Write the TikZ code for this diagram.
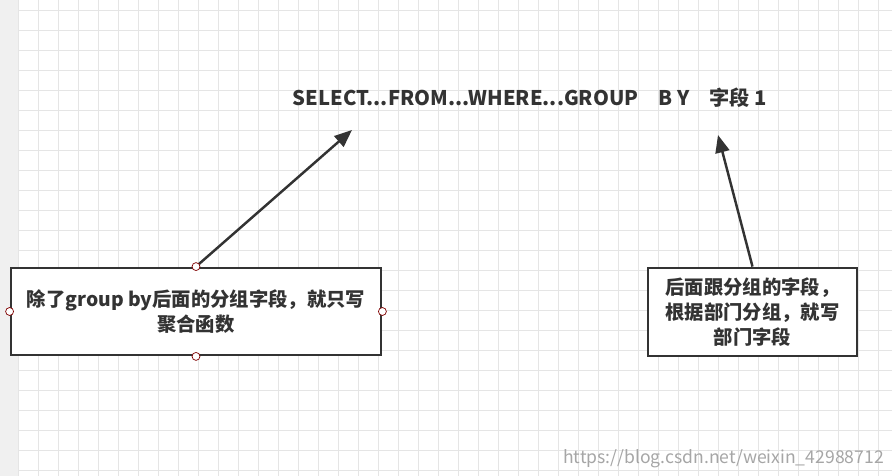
\documentclass[tikz,border=0pt]{standalone}
\usepackage{fontspec}
\setmainfont{Noto Sans CJK SC}
\usetikzlibrary{arrows.meta}
\tikzset{
  notebox/.style={draw=black!80, line width=1.6pt, fill=white, align=center, font=\bfseries\fontsize{11}{14}\selectfont, text=black!80},
  handle/.style={circle, draw=red!50!black, fill=white, inner sep=1.6pt},
}
\begin{document}
\begin{tikzpicture}[x=0.02cm, y=-0.02cm]
\useasboundingbox (0,0) rectangle (892,476);
\fill[white] (0,0) rectangle (892,476);
\fill[black!6] (0,0) rectangle (18,476);
\foreach \g in {0,20,...,880} \draw[black!10, line width=0.4pt] (\g+18,0) -- (\g+18,476);
\foreach \g in {0,20,...,460} \draw[black!10, line width=0.4pt] (18,\g+10) -- (892,\g+10);
\node[font=\bfseries\fontsize{11.5}{14}\selectfont, text=black!80] (sql) at (530,98) {SELECT...FROM...WHERE...GROUP\quad B Y\quad 字段 1};
\node[notebox, minimum width=370*0.02cm, minimum height=87*0.02cm] (left) at (196,311.5) {除了group by后面的分组字段，就只写\\聚合函数};
\node[notebox, minimum width=209*0.02cm, minimum height=88*0.02cm] (right) at (752.5,312) {后面跟分组的字段，\\根据部门分组，就写\\部门字段};
\coordinate (tipa) at (352,130);
\coordinate (tipb) at (718,135);
\draw[black!80, line width=1.4pt, -{Triangle[length=10pt,width=8pt]}] (left.north) -- (tipa);
\draw[black!80, line width=1.4pt, -{Triangle[length=10pt,width=8pt]}] (right.north) -- (tipb);
\foreach \a in {north,south,east,west} \node[handle] at (left.\a) {};
\node[anchor=south east, text=black!35, font=\fontsize{10}{12}\selectfont] (mark) at (890,474) {https://blog.csdn.net/weixin\_42988712};
\end{tikzpicture}
\end{document}
